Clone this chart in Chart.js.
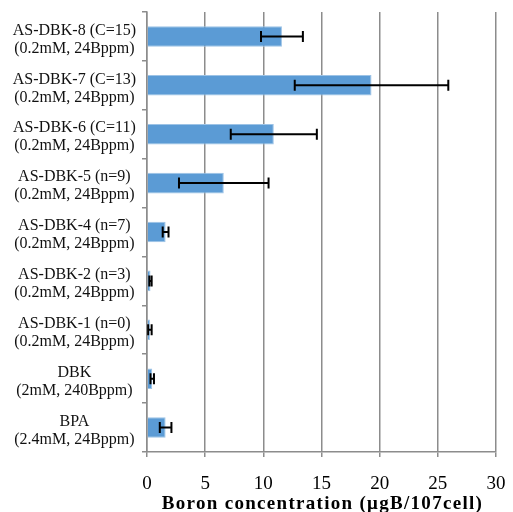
<!DOCTYPE html>
<html><head><meta charset="utf-8">
<script src="https://cdn.jsdelivr.net/npm/chart.js@4"></script>
<style>html,body{margin:0;padding:0;background:#fff}#wrap{width:513px;height:512px}</style>
</head><body><div id="wrap"><canvas id="c" width="513" height="512"></canvas></div>
<script>
const categories = [
  ["AS-DBK-8 (C=15)", "(0.2mM, 24Bppm)"],
  ["AS-DBK-7 (C=13)", "(0.2mM, 24Bppm)"],
  ["AS-DBK-6 (C=11)", "(0.2mM, 24Bppm)"],
  ["AS-DBK-5 (n=9)", "(0.2mM, 24Bppm)"],
  ["AS-DBK-4 (n=7)", "(0.2mM, 24Bppm)"],
  ["AS-DBK-2 (n=3)", "(0.2mM, 24Bppm)"],
  ["AS-DBK-1 (n=0)", "(0.2mM, 24Bppm)"],
  ["DBK", "(2mM, 240Bppm)"],
  ["BPA", "(2.4mM, 24Bppm)"]
];
const boronValues = [11.6, 19.3, 10.9, 6.6, 1.6, 0.3, 0.25, 0.45, 1.6];
const boronErrors = [1.8, 6.6, 3.7, 3.85, 0.25, 0.1, 0.15, 0.15, 0.5];
const xTicks = [0, 5, 10, 15, 20, 25, 30];
const xTitle = "Boron concentration (\u03bcgB/107cell)";

const errorBarPlugin = {
  id: 'errorBars',
  afterDatasetsDraw(chart) {
    const ctx = chart.ctx;
    const xs = chart.scales.x;
    const meta = chart.getDatasetMeta(0);
    ctx.save();
    ctx.strokeStyle = '#000';
    ctx.lineWidth = 2;
    meta.data.forEach((bar, i) => {
      const v = boronValues[i], e = boronErrors[i];
      const x1 = xs.getPixelForValue(v - e), x2 = xs.getPixelForValue(v + e);
      const y = bar.y, h = 5.5;
      ctx.beginPath();
      ctx.moveTo(x1, y); ctx.lineTo(x2, y);
      ctx.moveTo(x1, y - h); ctx.lineTo(x1, y + h);
      ctx.moveTo(x2, y - h); ctx.lineTo(x2, y + h);
      ctx.stroke();
    });
    ctx.restore();
  }
};

const axisTitlePlugin = {
  id: 'axisTitle',
  afterDraw(chart) {
    const ctx = chart.ctx;
    const a = chart.chartArea;
    ctx.save();
    ctx.font = 'bold 19px "Liberation Serif"';
    ctx.fillStyle = '#000';
    ctx.textAlign = 'center';
    ctx.textBaseline = 'alphabetic';
    ctx.letterSpacing = '1.3px';
    ctx.fillText(xTitle, (a.left + a.right) / 2 + 1, 509);
    ctx.restore();
  }
};

new Chart(document.getElementById('c'), {
  type: 'bar',
  data: {
    labels: categories,
    datasets: [{
      data: boronValues,
      backgroundColor: '#5B9BD5',
      borderColor: '#9DC3E6',
      borderWidth: 1,
      barPercentage: 0.42,
      categoryPercentage: 1.0
    }]
  },
  plugins: [errorBarPlugin, axisTitlePlugin],
  options: {
    indexAxis: 'y',
    responsive: false,
    animation: false,
    layout: { padding: { top: 12, right: 17, left: 0, bottom: 0 } },
    plugins: { legend: { display: false }, tooltip: { enabled: false } },
    scales: {
      x: {
        min: 0, max: 30,
        afterBuildTicks(s) { s.ticks = xTicks.map(v => ({ value: v })); },
        afterFit(s) { s.height = 60; s.paddingLeft = 0; s.paddingRight = 0; },
        grid: { color: '#8c8c8c', lineWidth: 1.5, tickLength: 5, drawTicks: true },
        border: { color: '#8c8c8c', width: 1.5 },
        ticks: { color: '#000', font: { family: 'Liberation Serif', size: 19 }, padding: 16 }
      },
      y: {
        afterFit(s) { s.width = 147; s.paddingTop = 0; s.paddingBottom = 0; },
        grid: { drawOnChartArea: false, drawTicks: true, tickLength: 5, color: '#8c8c8c', lineWidth: 1.5 },
        border: { color: '#8c8c8c', width: 1.5 },
        ticks: { color: '#111', font: { family: 'Liberation Serif', size: 16, lineHeight: '18px' },
          crossAlign: 'center', padding: 6, labelOffset: 3 }
      }
    }
  }
});
</script></body></html>
